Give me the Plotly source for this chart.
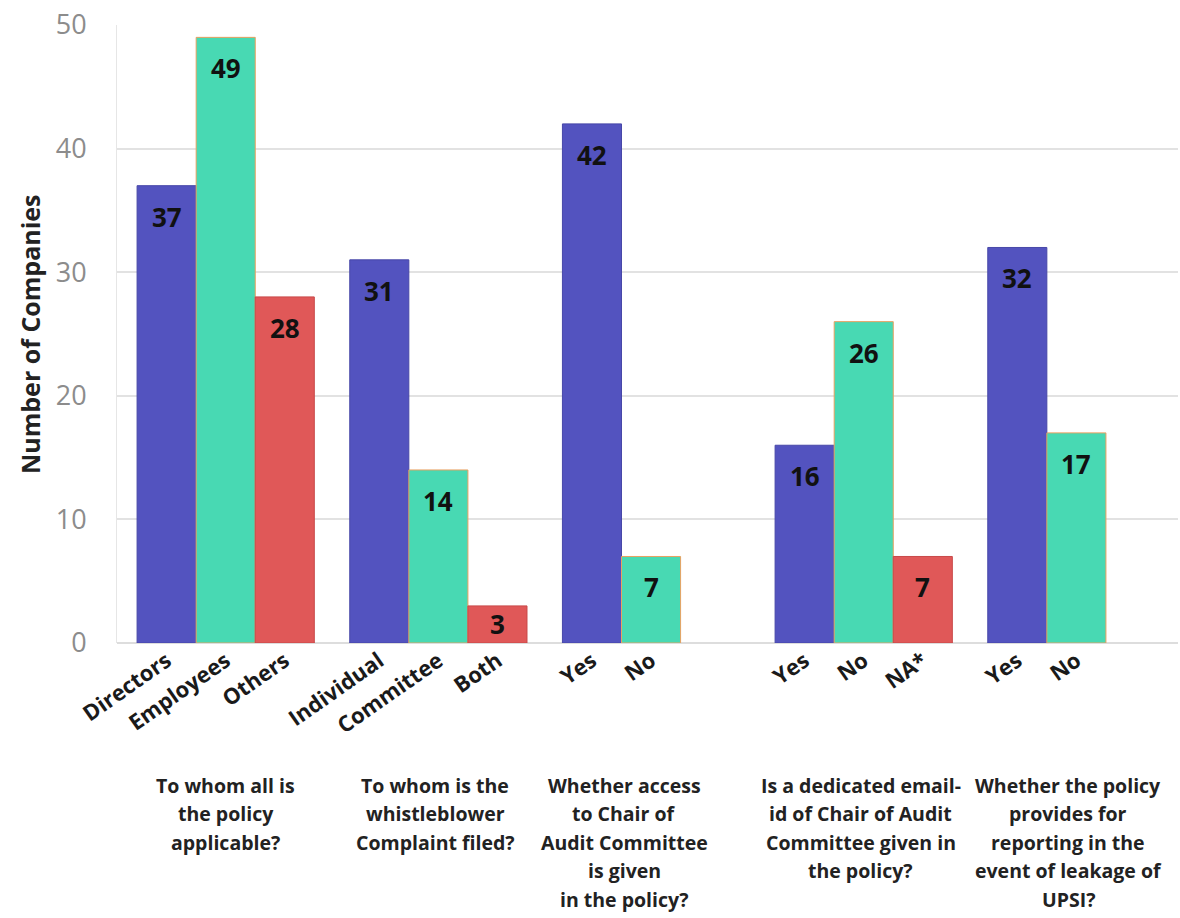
import plotly.graph_objects as go

# ---- data ----
group_titles = [
    ["To whom all is", "the policy", "applicable?"],
    ["To whom is the", "whistleblower", "Complaint filed?"],
    ["Whether access", "to Chair of", "Audit Committee", "is given", "in the policy?"],
    ["Is a dedicated email-", "id of Chair of Audit", "Committee given in", "the policy?"],
    ["Whether the policy", "provides for", "reporting in the", "event of leakage of", "UPSI?"],
]
blue_labels = ["Directors", "Individual", "Yes", "Yes", "Yes"]
blue_values = [37, 31, 42, 16, 32]
green_labels = ["Employees", "Committee", "No", "No", "No"]
green_values = [49, 14, 7, 26, 17]
red_groups = [0, 1, 3]
red_labels = ["Others", "Both", "NA*"]
red_values = [28, 3, 7]

# ---- layout helpers ----
GROUP_STEP = 3.6
def pos(g, s):
    return g * GROUP_STEP + s

title_offsets = [1.0, 0.95, 0.55, 0.95, 0.86]
PLOT_H = 618
TITLE_TOP_PX = 785 - 643   # first-line centre below the axis
LINE_PX = 28.5

BLUE = "#5353BF"
GREEN = "#48D9B3"
RED = "#E05858"
PX_PER_UNIT = PLOT_H / 50
FONT = "Open Sans"

fig = go.Figure()
series = [
    (list(range(5)), 0, blue_values, blue_labels, BLUE, "#4747A8"),
    (list(range(5)), 1, green_values, green_labels, GREEN, "#E8A060"),
    (red_groups, 2, red_values, red_labels, RED, "#C84848"),
]
tickvals, ticktext = [], []
annotations = []
for groups, slot, vals, labs, col, line in series:
    xs = [pos(g, slot) for g in groups]
    fig.add_trace(go.Bar(x=xs, y=vals, width=1.0, marker=dict(color=col, line=dict(color=line, width=1)),
                         showlegend=False, hoverinfo="skip"))
    tickvals += xs
    ticktext += labs
    for x, v in zip(xs, vals):
        shift = -min(31, v * PX_PER_UNIT / 2)
        annotations.append(dict(x=x, y=v, xref="x", yref="y", text=f"<b>{v}</b>", showarrow=False,
                                yshift=shift, yanchor="middle",
                                font=dict(family=FONT, size=26, color="#111111")))

for g, (lines, off) in enumerate(zip(group_titles, title_offsets)):
    for i, ln in enumerate(lines):
        annotations.append(dict(x=g * GROUP_STEP + off, y=-(TITLE_TOP_PX + i * LINE_PX) / PLOT_H,
                                xref="x", yref="paper", text=f"<b>{ln}</b>", showarrow=False,
                                yanchor="middle", xanchor="center",
                                font=dict(family=FONT, size=19.5, color="#222222")))

annotations.append(dict(x=-87 / 1061, y=0.5, xref="paper", yref="paper", text="<b>Number of Companies</b>",
                        textangle=-90, showarrow=False, xanchor="center", yanchor="middle",
                        font=dict(family=FONT, size=25, color="#222222")))

fig.update_layout(
    width=1180, height=918,
    margin=dict(l=117, r=2, t=25, b=275),
    paper_bgcolor="white", plot_bgcolor="white",
    barmode="overlay",
    annotations=annotations,
    xaxis=dict(range=[-0.84, 17.12], tickvals=tickvals, ticktext=ticktext, tickangle=-35,
               tickfont=dict(family=FONT, size=22, color="#1a1a1a", weight="bold"),
               showgrid=False, zeroline=False, showline=False, ticks=""),
    yaxis=dict(range=[0, 50], dtick=10, gridcolor="#E2E2E2", gridwidth=1.5, zeroline=True,
               zerolinecolor="#DDDDDD", zerolinewidth=1.5, showline=True, linecolor="#E6E6E6",
               tickfont=dict(family=FONT, size=27, color="#8C8C8C"), ticklabelstandoff=24),
)

fig.write_html("out.html")
